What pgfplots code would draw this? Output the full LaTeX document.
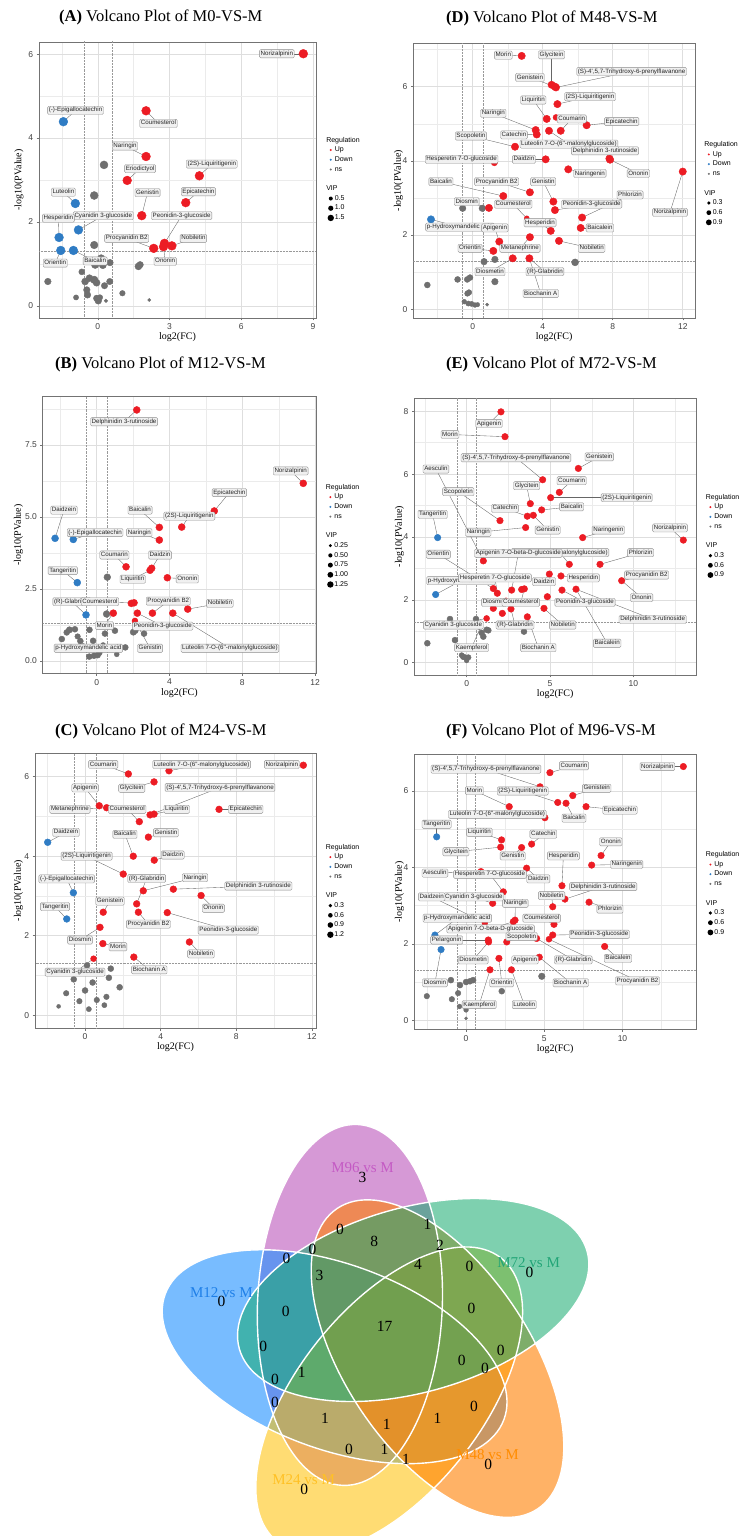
\documentclass[border=0pt]{standalone}
\usepackage{fontspec}
\setmainfont{Liberation Serif}
\newfontfamily\sansf{Liberation Sans}
\usepackage{pgfplots}
\usepackage{pgfplotstable}
\pgfplotsset{compat=1.18}

\definecolor{upred}{HTML}{EC1C24}
\definecolor{downblue}{HTML}{2F7CC4}
\definecolor{nsgray}{HTML}{6F6F6F}
\definecolor{vpink}{HTML}{B446B4}
\definecolor{vblue}{HTML}{1E90FF}
\definecolor{vyellow}{HTML}{FFC000}
\definecolor{vorange}{HTML}{FF7F00}
\definecolor{vgreen}{HTML}{14AA6E}
\definecolor{tpink}{HTML}{C45AC4}
\definecolor{tblue}{HTML}{1E7FE8}
\definecolor{tyellow}{HTML}{FFC125}
\definecolor{torange}{HTML}{FF8C00}
\definecolor{tgreen}{HTML}{22A577}

% ---------------- Panel A ----------------
\pgfplotstableread{
x y r g
8.60 6.01 4.4 1
2.02 4.65 4.4 1
2.02 3.56 4.4 1
1.23 2.99 4.4 1
4.25 3.10 4.4 1
3.68 2.46 4.4 1
1.84 2.15 4.4 1
2.79 1.49 4.4 1
3.10 1.43 4.4 1
2.34 1.37 4.4 1
2.75 1.41 4.4 1
-1.44 4.39 4.4 2
-0.94 2.44 4.4 2
-0.81 1.81 4.4 2
-1.62 1.63 4.4 2
-1.55 1.32 4.4 2
-1.02 1.32 4.4 2
0.26 3.36 4.0 0
-0.15 2.63 4.0 0
-0.15 1.45 3.8 0
-2.09 0.58 3.3 0
0.14 1.13 3.8 0
0.51 1.03 3.3 0
-0.11 0.98 3.8 0
0.21 0.97 3.6 0
1.70 0.94 3.5 0
1.77 0.98 3.3 0
-0.35 0.66 3.5 0
-0.15 0.62 3.8 0
-0.53 0.58 3.5 0
-0.05 0.55 3.5 0
0.50 0.58 3.2 0
0.28 0.48 3.2 0
-0.46 0.38 3.3 0
-0.43 0.26 3.3 0
-0.91 0.20 2.6 0
1.03 0.30 2.8 0
-0.05 0.18 3.2 0
0.02 0.12 3.4 0
0.09 0.20 2.8 0
0.34 0.12 1.8 0
2.15 0.14 1.6 0
-0.67 0.81 3.0 0
}\tA
\pgfplotstableread{
px py lx ly name
8.60 6.01 7.49 6.01 Norizalpinin
2.02 4.65 2.54 4.35 Coumesterol
2.02 3.56 1.14 3.81 Naringin
1.23 2.99 1.77 3.27 Eriodictyol
4.25 3.10 4.77 3.38 {(2S)-Liquiritigenin}
3.68 2.46 4.21 2.72 Epicatechin
1.84 2.15 2.08 2.70 Genistin
2.79 1.49 3.51 2.15 Peonidin-3-glucoside
3.10 1.43 4.00 1.61 Nobiletin
2.34 1.37 1.21 1.61 {Procyanidin B2}
2.75 1.41 2.82 1.06 Ononin
-1.44 4.39 -0.93 4.66 {(-)-Epigallocatechin}
-0.94 2.44 -1.44 2.71 Luteolin
-0.81 1.81 0.23 2.15 {Cyanidin 3-glucoside}
-1.62 1.63 -1.65 2.09 Hesperidin
-1.55 1.32 -1.78 1.02 Orientin
-1.02 1.32 -0.11 1.07 Baicalin
}\lA

% ---------------- Panel D ----------------
\pgfplotstableread{
x y r g
2.80 6.83 3.7 1
4.51 6.05 3.7 1
4.70 6.00 3.7 1
4.76 5.98 3.7 1
4.84 5.53 3.7 1
4.23 5.13 3.7 1
4.76 5.17 3.0 1
5.03 4.81 3.7 1
6.51 4.96 3.7 1
3.60 4.83 3.7 1
3.66 4.71 3.7 1
4.36 4.81 3.7 1
2.42 4.38 3.7 1
7.81 4.06 3.7 1
7.85 4.03 3.7 1
1.24 3.95 3.2 1
4.17 4.04 3.7 1
5.46 3.77 3.7 1
12.00 3.71 3.7 1
3.27 3.15 3.7 1
1.75 3.05 3.7 1
4.61 2.90 3.7 1
4.70 2.67 3.7 1
6.25 2.47 3.7 1
0.93 2.73 3.7 1
3.09 2.45 2.5 1
6.17 2.19 3.7 1
4.46 2.11 3.7 1
1.52 1.82 3.7 1
3.27 1.94 3.7 1
4.93 1.84 3.7 1
1.18 1.57 3.7 1
2.29 1.37 3.7 1
3.24 1.37 3.7 1
-2.38 2.42 3.7 2
-0.57 2.72 3.3 0
0.55 2.72 3.3 0
0.65 1.28 3.3 0
1.27 1.34 3.3 0
1.27 0.74 3.3 0
5.85 1.26 3.5 0
-2.59 0.65 3.0 0
-0.86 0.80 3.0 0
-0.31 0.80 3.0 0
-0.15 0.85 3.0 0
-0.21 0.45 2.8 0
-0.30 0.42 2.8 0
-0.48 0.20 2.4 0
-0.25 0.15 2.6 0
-0.06 0.14 2.6 0
0.13 0.11 2.4 0
0.28 0.12 2.2 0
0.83 0.12 1.6 0
}\tD
\pgfplotstableread{
px py lx ly name
2.80 6.83 1.75 6.85 Morin
4.51 6.05 4.51 6.86 Glycitein
4.70 6.00 3.27 6.25 Genistein
4.76 5.98 9.08 6.41 {(S)-4',5,7-Trihydroxy-6-prenylflavanone}
4.84 5.53 6.70 5.73 {(2S)-Liquiritigenin}
4.23 5.13 3.46 5.64 Liquiritin
5.03 4.81 5.66 5.13 Coumarin
6.51 4.96 8.51 5.06 Epicatechin
3.60 4.83 1.18 5.28 Naringin
3.66 4.71 2.36 4.70 Catechin
2.42 4.38 -0.10 4.67 Scopoletin
4.36 4.81 5.50 4.45 {Luteolin 7-O-(6''-malonylglucoside)}
7.81 4.06 7.56 4.27 {Delphinidin 3-rutinoside}
7.85 4.03 9.46 3.66 Ononin
1.24 3.95 -0.63 4.04 {Hesperetin 7-O-glucoside}
4.17 4.04 2.93 4.04 Daidzin
5.46 3.77 6.70 3.66 Naringenin
12.00 3.71 11.27 2.61 Norizalpinin
3.27 3.15 1.37 3.44 {Procyanidin B2}
1.75 3.05 -1.81 3.44 Baicalin
4.61 2.90 4.03 3.44 Genistin
4.70 2.67 6.80 2.83 Peonidin-3-glucoside
6.25 2.47 8.99 3.08 Phlorizin
0.93 2.73 -0.34 2.90 Diosmin
3.09 2.45 2.32 2.83 Coumesterol
6.17 2.19 7.27 2.19 Baicalein
4.46 2.11 3.85 2.33 Hesperidin
-2.38 2.42 -0.73 2.21 {p-Hydroxymandelic acid}
1.52 1.82 1.27 2.19 Apigenin
3.27 1.94 2.70 1.64 Metanephrine
4.93 1.84 6.80 1.64 Nobiletin
1.18 1.57 -0.15 1.64 Orientin
2.29 1.37 0.99 1.01 Diosmetin
3.24 1.37 4.13 1.01 {(R)-Glabridin}
3.24 1.37 3.89 0.42 {Biochanin A}
}\lD

% ---------------- Panel B ----------------
\pgfplotstableread{
x y r g
2.20 8.72 3.5 1
11.35 6.17 3.5 1
6.46 5.21 3.5 1
4.67 4.65 3.5 1
3.44 4.64 3.5 1
3.44 4.20 3.5 1
1.61 3.27 3.5 1
3.02 3.22 3.5 1
2.93 3.15 3.5 1
3.88 2.89 3.5 1
3.06 1.66 3.5 1
5.00 1.80 3.5 1
2.05 2.02 3.5 1
1.90 2.00 3.5 1
0.91 1.66 3.5 1
2.23 1.66 3.5 1
4.18 1.66 3.5 1
2.10 1.39 3.0 1
-2.29 4.26 3.5 2
-1.29 4.22 3.5 2
-1.07 2.72 3.5 2
-0.59 1.60 3.5 2
0.58 2.91 3.4 0
0.54 1.63 3.4 0
-1.50 1.08 3.2 0
-1.20 1.10 3.0 0
-0.40 1.08 3.0 0
-1.92 0.76 3.0 0
-0.90 0.69 3.0 0
-0.74 0.50 3.0 0
-0.41 0.15 3.0 0
-0.15 0.18 3.0 0
0.05 0.20 3.0 0
0.15 0.28 2.8 0
1.10 0.23 2.5 0
1.57 0.47 3.0 0
-1.65 0.99 3.0 0
2.01 1.00 3.2 0
2.60 0.95 3.0 0
2.12 1.05 3.0 0
0.35 0.55 2.6 0
-0.20 0.70 3.0 0
0.45 0.95 3.0 0
1.00 1.05 3.0 0
-1.05 0.85 2.8 0
}\tB
\pgfplotstableread{
px py lx ly name
2.20 8.72 1.50 8.31 {Delphinidin 3-rutinoside}
11.35 6.17 10.66 6.60 Norizalpinin
6.46 5.21 7.29 5.85 Epicatechin
4.67 4.65 5.09 5.03 {(2S)-Liquiritigenin}
3.44 4.64 2.38 5.24 Baicalin
3.44 4.20 2.34 4.46 Naringin
-2.29 4.26 -1.80 5.24 Daidzein
-1.29 4.22 -0.09 4.46 {(-)-Epigallocatechin}
1.61 3.27 0.97 3.68 Coumarin
3.02 3.22 3.48 3.68 Daidzin
2.93 3.15 1.98 2.84 Liquiritin
3.88 2.89 4.98 2.85 Ononin
-1.07 2.72 -1.87 3.14 Tangeritin
3.06 1.66 3.93 2.08 {Procyanidin B2}
5.00 1.80 6.77 2.00 Nobiletin
-0.59 1.60 -1.37 2.06 {(R)-Glabridin}
2.05 2.02 0.18 2.06 Coumesterol
0.91 1.66 0.42 1.23 Morin
2.23 1.66 3.63 1.21 Peonidin-3-glucoside
1.57 0.47 -0.46 0.44 {p-Hydroxymandelic acid}
2.10 1.39 2.93 0.44 Genistin
4.18 1.66 7.32 0.44 {Luteolin 7-O-(6''-malonylglucoside)}
}\lB

% ---------------- Panel E ----------------
\pgfplotstableread{
x y r g
2.06 7.98 3.3 1
2.30 7.19 3.3 1
6.70 6.18 3.3 1
4.56 5.82 3.3 1
5.56 5.42 3.3 1
5.04 5.25 3.3 1
3.82 5.06 3.3 1
4.50 4.86 3.3 1
2.00 4.52 3.3 1
3.64 4.66 3.3 1
4.00 4.69 3.3 1
3.54 4.30 3.3 1
6.96 3.98 3.3 1
13.00 3.90 3.3 1
8.00 3.13 3.3 1
6.16 3.13 3.3 1
1.00 3.24 3.3 1
4.96 2.82 3.3 1
5.66 2.76 3.3 1
9.30 2.61 3.3 1
5.72 2.31 3.3 1
6.56 2.34 3.3 1
1.60 2.36 3.3 1
1.84 2.21 3.3 1
2.70 2.31 3.3 1
3.30 2.33 3.3 1
3.46 2.35 3.3 1
4.84 2.10 3.3 1
2.36 1.97 3.0 1
1.60 1.73 3.3 1
2.14 1.57 3.3 1
2.66 1.71 3.3 1
4.64 1.73 3.3 1
3.64 1.46 3.3 1
1.20 1.41 3.0 1
-1.74 3.98 3.3 2
-1.86 2.17 3.3 2
-1.00 1.39 3.0 0
0.56 1.39 3.0 0
0.76 1.15 3.0 0
1.20 1.05 3.0 0
0.90 0.95 3.0 0
-2.36 0.62 3.0 0
-0.70 0.72 3.0 0
1.00 0.83 3.0 0
1.30 1.03 3.0 0
3.44 0.99 3.0 0
-0.20 0.19 3.0 0
-0.05 0.16 2.8 0
0.10 0.17 2.8 0
0.00 0.07 2.4 0
-0.30 0.24 2.6 0
}\tE
\pgfplotstableread{
px py lx ly name
2.06 7.98 1.34 7.61 Apigenin
2.30 7.19 -1.00 7.26 Morin
6.70 6.18 7.96 6.55 Genistein
4.56 5.82 2.96 6.52 {(S)-4',5,7-Trihydroxy-6-prenylflavanone}
5.56 5.42 6.30 5.79 Coumarin
5.04 5.25 9.60 5.25 {(2S)-Liquiritigenin}
3.82 5.06 3.60 5.63 Glycitein
4.50 4.86 6.30 4.96 Baicalin
2.00 4.52 -0.50 5.44 Scopoletin
3.64 4.66 2.30 4.91 Catechin
4.00 4.69 4.86 4.22 Genistin
3.54 4.30 0.70 4.15 Naringin
1.00 3.24 -1.84 6.16 Aesculin
-1.74 3.98 -2.04 4.72 Tangeritin
6.96 3.98 8.50 4.22 Naringenin
13.00 3.90 12.20 4.29 Norizalpinin
6.16 3.13 5.60 3.50 {Luteolin 7-O-(6''-malonylglucoside)}
8.00 3.13 10.44 3.50 Phlorizin
2.70 2.31 3.10 3.48 {Apigenin 7-O-beta-D-glucoside}
1.60 2.36 -1.70 3.45 Orientin
-1.86 2.17 -0.34 2.61 {p-Hydroxymandelic acid}
1.84 2.21 1.70 2.70 {Hesperetin 7-O-glucoside}
4.96 2.82 4.64 2.58 Daidzin
5.66 2.76 7.00 2.70 Hesperidin
9.30 2.61 10.80 2.79 {Procyanidin B2}
9.30 2.61 10.50 2.07 Ononin
5.72 2.31 7.10 1.92 Peonidin-3-glucoside
6.56 2.34 11.16 1.38 {Delphinidin 3-rutinoside}
1.60 1.73 1.64 1.92 Diosmin
3.46 2.35 3.25 1.92 Coumesterol
4.64 1.73 5.76 1.20 Nobiletin
2.66 1.71 2.90 1.20 {(R)-Glabridin}
1.20 1.41 -0.80 1.20 {Cyanidin 3-glucoside}
0.80 1.09 0.30 0.48 Kaempferol
3.64 1.46 4.30 0.48 {Biochanin A}
6.56 2.34 8.43 0.62 Baicalein
}\lE

% ---------------- Panel C ----------------
\pgfplotstableread{
x y r g
11.55 6.29 3.4 1
4.44 6.15 3.4 1
2.29 6.07 3.4 1
3.65 5.87 3.4 1
3.44 5.04 3.4 1
3.65 5.06 3.4 1
0.75 5.27 3.4 1
1.14 5.22 3.4 1
2.87 4.87 3.4 1
7.09 5.18 3.4 1
3.35 4.48 3.4 1
2.55 4.00 3.4 1
3.66 3.90 3.4 1
2.02 3.55 3.4 1
3.08 3.13 3.4 1
4.67 3.17 3.4 1
6.14 3.01 3.4 1
0.96 2.59 3.4 1
2.73 2.80 3.4 1
2.82 2.59 3.4 1
4.35 2.58 3.4 1
0.79 2.21 3.4 1
5.52 1.84 3.4 1
0.94 1.80 3.4 1
2.58 1.46 3.4 1
0.45 1.42 3.0 1
-1.98 4.35 3.4 2
-0.62 3.08 3.4 2
-0.97 2.42 3.4 2
1.36 1.17 3.0 0
1.26 0.94 3.0 0
1.83 0.70 3.0 0
1.13 0.46 2.8 0
1.02 0.25 2.6 0
-1.00 0.55 2.8 0
-0.60 0.90 3.0 0
-0.30 0.35 2.8 0
0.00 0.62 3.0 0
0.20 0.15 2.6 0
0.40 0.82 3.0 0
-0.20 1.10 3.0 0
0.62 0.38 2.8 0
-1.40 0.22 2.0 0
0.10 1.25 3.0 0
}\tC
\pgfplotstableread{
px py lx ly name
11.55 6.29 10.41 6.31 Norizalpinin
4.44 6.15 6.17 6.31 {Luteolin 7-O-(6''-malonylglucoside)}
2.29 6.07 0.96 6.31 Coumarin
3.65 5.87 2.47 5.71 Glycitein
3.44 5.04 7.14 5.73 {(S)-4',5,7-Trihydroxy-6-prenylflavanone}
0.75 5.27 0.00 5.72 Apigenin
1.14 5.22 -0.80 5.18 Metanephrine
2.87 4.87 2.23 5.18 Coumesterol
3.65 5.06 4.85 5.18 Liquiritin
7.09 5.18 8.50 5.18 Epicatechin
-1.98 4.35 -1.01 4.60 Daidzein
3.35 4.48 4.28 4.59 Genistin
2.55 4.00 2.11 4.55 Baicalin
3.66 3.90 4.64 4.03 Daidzin
2.02 3.55 0.08 4.00 {(2S)-Liquiritigenin}
2.73 2.80 3.26 3.44 {(R)-Glabridin}
3.08 3.13 5.82 3.46 Naringin
4.67 3.17 9.17 3.25 {Delphinidin 3-rutinoside}
-0.62 3.08 -0.97 3.43 {(-)-Epigallocatechin}
6.14 3.01 6.79 2.69 Ononin
-0.97 2.42 -1.59 2.73 Tangeritin
0.96 2.59 1.32 2.87 Genistein
2.82 2.59 3.35 2.29 {Procyanidin B2}
4.35 2.58 7.58 2.14 Peonidin-3-glucoside
0.79 2.21 -0.27 1.89 Diosmin
5.52 1.84 6.13 1.54 Nobiletin
0.94 1.80 1.74 1.72 Morin
2.58 1.46 3.40 1.14 {Biochanin A}
0.45 1.42 -0.53 1.08 {Cyanidin 3-glucoside}
}\lC

% ---------------- Panel F ----------------
\pgfplotstableread{
x y r g
13.89 6.64 3.3 1
5.36 6.48 3.3 1
4.73 6.11 3.3 1
6.82 5.88 3.3 1
5.86 5.70 3.3 1
6.39 5.68 3.3 1
7.67 5.59 3.3 1
2.76 5.59 3.3 1
5.04 5.30 3.3 1
2.27 4.72 3.3 1
2.21 4.53 3.3 1
4.19 4.61 3.3 1
3.55 4.52 3.3 1
8.63 4.31 3.3 1
8.03 4.06 3.3 1
3.87 3.98 3.3 1
0.95 3.89 3.3 1
6.13 3.52 3.3 1
2.38 3.36 3.3 1
6.32 3.17 3.3 1
5.54 2.97 3.3 1
7.86 3.09 3.3 1
1.70 3.06 3.3 1
3.13 2.62 3.3 1
5.62 2.51 3.3 1
5.54 2.23 3.3 1
3.02 2.58 3.3 1
4.51 2.14 3.3 1
5.30 2.12 3.0 1
2.60 2.05 3.3 1
1.42 2.10 3.3 1
1.44 2.05 3.3 1
4.68 1.65 3.3 1
2.10 1.62 3.3 1
1.53 1.32 3.3 1
2.90 1.32 3.3 1
8.86 1.93 3.3 1
1.20 2.55 3.0 1
-1.88 4.80 3.3 2
-1.99 2.23 3.3 2
-1.60 1.85 3.3 2
4.84 1.15 3.3 0
2.28 0.76 3.0 0
-2.51 0.63 2.8 0
-0.91 0.55 2.8 0
-0.97 1.05 3.0 0
-0.51 0.71 2.8 0
-0.39 0.92 3.0 0
0.00 1.00 3.0 0
0.25 1.02 3.0 0
0.45 1.05 3.0 0
-0.42 0.36 2.4 0
0.00 0.27 2.4 0
0.00 0.05 1.5 0
}\tF
\pgfplotstableread{
px py lx ly name
13.89 6.64 12.23 6.64 Norizalpinin
5.36 6.48 6.90 6.66 Coumarin
4.73 6.11 1.27 6.57 {(S)-4',5,7-Trihydroxy-6-prenylflavanone}
6.82 5.88 8.35 6.07 Genistein
5.86 5.70 3.62 6.00 {(2S)-Liquiritigenin}
2.76 5.59 0.53 6.01 Morin
6.39 5.68 6.90 5.29 Baicalin
7.67 5.59 9.84 5.50 Epicatechin
5.04 5.30 2.00 5.39 {Luteolin 7-O-(6''-malonylglucoside)}
-1.88 4.80 -1.88 5.13 Tangeritin
2.27 4.72 0.85 4.92 Liquiritin
4.19 4.61 4.94 4.87 Catechin
8.63 4.31 9.25 4.67 Ononin
2.21 4.53 -0.65 4.41 Glycitein
3.55 4.52 2.98 4.30 Genistin
6.13 3.52 6.22 4.30 Hesperidin
8.03 4.06 10.27 4.08 Naringenin
0.95 3.89 -1.99 3.85 Aesculin
2.38 3.36 1.53 3.82 {Hesperetin 7-O-glucoside}
3.87 3.98 4.62 3.70 Daidzin
6.32 3.17 8.77 3.50 {Delphinidin 3-rutinoside}
5.54 2.97 5.47 3.26 Nobiletin
1.70 3.06 0.50 3.23 {Cyanidin 3-glucoside}
1.20 2.55 -2.20 3.23 Daidzein
3.13 2.62 3.15 3.06 Naringin
7.86 3.09 9.20 2.91 Phlorizin
-1.99 2.23 -0.56 2.67 {p-Hydroxymandelic acid}
5.62 2.51 4.83 2.67 Coumesterol
3.02 2.58 1.57 2.39 {Apigenin 7-O-beta-D-glucoside}
5.54 2.23 8.52 2.25 Peonidin-3-glucoside
2.60 2.05 3.55 2.19 Scopoletin
1.42 2.10 -1.24 2.10 Pelargonin
-1.60 1.85 -1.99 0.98 Diosmin
1.44 2.05 0.45 1.58 Diosmetin
4.68 1.65 3.77 1.58 Apigenin
4.51 2.14 6.85 1.58 {(R)-Glabridin}
8.86 1.93 9.71 1.62 Baicalein
4.68 1.65 6.69 0.98 {Biochanin A}
5.30 2.12 10.96 1.03 {Procyanidin B2}
2.10 1.62 2.28 0.98 Orientin
1.53 1.32 0.84 0.41 Kaempferol
2.90 1.32 3.72 0.41 Luteolin
}\lF

% ---------------- Venn counts ----------------
\pgfplotstableread{
x y n
340.0 -1229.0 0
427.5 -1224.4 1
374.3 -1241.5 8
440.0 -1245.3 2
312.5 -1249.9 0
286.4 -1258.6 0
417.9 -1264.0 4
319.6 -1275.7 3
469.6 -1266.2 0
285.7 -1311.9 0
471.4 -1308.0 0
384.6 -1326.0 17
263.2 -1346.8 0
500.7 -1350.6 0
461.8 -1360.0 0
301.8 -1372.7 1
275.0 -1379.2 0
485.0 -1368.9 0
275.0 -1402.0 0
473.9 -1406.9 0
325.0 -1418.3 1
386.8 -1424.8 1
437.5 -1418.3 1
348.9 -1449.5 0
384.6 -1449.5 1
406.0 -1459.0 1
362.5 -1177.6 3
529.6 -1272.0 0
221.4 -1301.2 0
488.2 -1464.0 0
304.3 -1489.4 0
}\vennN

\tikzset{
  lab/.style={draw=black!45, fill=white!94!black, rounded corners=1.2pt, line width=0.35pt,
    inner sep=1.2pt, font=\sansf\fontsize{6.2}{7}\selectfont, text=black!85,
    text height=4.5pt, text depth=1.3pt},
}
\pgfplotsset{
  volc/.style={
    scale only axis, anchor=south west,
    axis line style={black!55, line width=0.5pt},
    every tick/.style={black!55, line width=0.5pt},
    tick align=outside, major tick length=2.3pt, minor tick length=0pt,
    xtick pos=lower, ytick pos=left,
    grid=both,
    major grid style={black!13, line width=0.55pt},
    minor grid style={black!8, line width=0.3pt},
    /pgf/number format/assume math mode=true,
    tick label style={font=\sansf\fontsize{8.5}{9}\selectfont, text=black!75},
    xlabel={log2(FC)}, ylabel={-log10(PValue)},
    label style={font=\sansf\fontsize{9.8}{11}\selectfont, text=black},
    every axis x label/.style={at={(rel axis cs:0.5,-0.07)}, anchor=center},
    legend cell align=left,
    legend style={draw=none, fill=none, anchor=north west,
      font=\sansf\fontsize{7}{8}\selectfont, inner sep=0pt, row sep=2.2pt,
      nodes={inner sep=0.5pt, text height=5pt, text depth=1.5pt}},
  },
  thr/.style={black!40, line width=0.45pt, densely dotted},
  pts/.style={scatter, only marks, mark=*,
    visualization depends on={\thisrow{r}\as\rr},
    scatter/@pre marker code/.code={\scope[mark size=\rr]},
    scatter/@post marker code/.code={\endscope}},
  leader/.style={black!60, line width=0.35pt},
}

\newcommand{\volcdraw}[2]{%
  \addplot[forget plot, thr] coordinates {(-0.585,-5) (-0.585,15)};
  \addplot[forget plot, thr] coordinates {(0.585,-5) (0.585,15)};
  \addplot[forget plot, thr] coordinates {(-5,1.301) (20,1.301)};
  \addplot[forget plot, pts, color=nsgray, restrict expr to domain={\thisrow{g}}{-0.5:0.5}] table[x=x,y=y] {#1};
  \addplot[forget plot, pts, color=upred, restrict expr to domain={\thisrow{g}}{0.5:1.5}] table[x=x,y=y] {#1};
  \addplot[forget plot, pts, color=downblue, restrict expr to domain={\thisrow{g}}{1.5:2.5}] table[x=x,y=y] {#1};
  \addplot[forget plot, leader, quiver={u=\thisrow{lx}-\thisrow{px}, v=\thisrow{ly}-\thisrow{py}}]
    table[x=px,y=py] {#2};
  \addplot[forget plot, only marks, mark=none, point meta=explicit symbolic,
    nodes near coords, nodes near coords align={center},
    every node near coord/.append style={lab}] table[x=lx,y=ly,meta=name] {#2};
}
\newcommand{\leg}[3]{\addlegendimage{legend image code/.code={\path[draw=none,fill=none] (0pt,-1pt) rectangle (7pt,1pt);\fill[#1,draw=none] (3.5pt,0pt) circle[radius=#2];}}\addlegendentry{#3}}
\newcommand{\legtitle}[1]{\addlegendimage{empty legend}\addlegendentry{\hspace*{-8.5pt}#1}}
\newcommand{\legblank}{\addlegendimage{empty legend}\addlegendentry{}}
\newcommand{\legreg}{\legtitle{Regulation}\leg{upred}{1.1pt}{Up}\leg{downblue}{1.1pt}{Down}\leg{nsgray}{1.1pt}{ns}\legblank\legtitle{VIP}}
\newcommand{\ttl}{\fontsize{16.5}{18}\selectfont}

\begin{document}
\begin{tikzpicture}
\path[use as bounding box] (0pt,0pt) rectangle (741pt,-1536pt);

% ---- titles ----
\node[anchor=west, font=\ttl, inner sep=0pt] at (59pt,-17.5pt) {\textbf{(A)} Volcano Plot of M0-VS-M};
\node[anchor=west, font=\ttl, inner sep=0pt] at (446pt,-18pt) {\textbf{(D)} Volcano Plot of M48-VS-M};
\node[anchor=west, font=\ttl, inner sep=0pt] at (55pt,-364pt) {\textbf{(B)} Volcano Plot of M12-VS-M};
\node[anchor=west, font=\ttl, inner sep=0pt] at (446pt,-364pt) {\textbf{(E)} Volcano Plot of M72-VS-M};
\node[anchor=west, font=\ttl, inner sep=0pt] at (55pt,-731pt) {\textbf{(C)} Volcano Plot of M24-VS-M};
\node[anchor=west, font=\ttl, inner sep=0pt] at (446pt,-731pt) {\textbf{(F)} Volcano Plot of M96-VS-M};

% ---- A ----
\begin{axis}[volc, at={(39pt,-318pt)}, width=277pt, height=276pt,
  xmin=-2.46, xmax=9.13, ymin=-0.29, ymax=6.29,
  xtick={0,3,6,9}, ytick={0,2,4,6}, minor xtick={-1.5,1.5,4.5,7.5}, minor ytick={1,3,5},
  every axis y label/.style={at={(rel axis cs:-0.072,0.5)}, rotate=90, anchor=center},
  legend style={at={(1.040,0.658)}}]
\volcdraw{\tA}{\lA}
\legreg
\leg{black}{2.0pt}{0.5}\leg{black}{2.6pt}{1.0}\leg{black}{3.2pt}{1.5}
\end{axis}

% ---- D ----
\begin{axis}[volc, at={(413.3pt,-318pt)}, width=281.7pt, height=274.7pt,
  xmin=-3.39, xmax=12.7, ymin=-0.24, ymax=7.17,
  xtick={0,4,8,12}, ytick={0,2,4,6}, minor xtick={-2,2,6,10}, minor ytick={1,3,5,7},
  every axis y label/.style={at={(rel axis cs:-0.053,0.5)}, rotate=90, anchor=center},
  legend style={at={(1.036,0.645)}}]
\volcdraw{\tD}{\lD}
\legreg
\leg{black}{1.8pt}{0.3}\leg{black}{2.4pt}{0.6}\leg{black}{2.9pt}{0.9}
\end{axis}

% ---- B ----
\begin{axis}[volc, at={(42.7pt,-673.3pt)}, width=273.3pt, height=276.6pt,
  xmin=-2.97, xmax=12.05, ymin=-0.43, ymax=9.18,
  xtick={0,4,8,12}, ytick={0,2.5,5,7.5}, minor xtick={-2,2,6,10}, minor ytick={1.25,3.75,6.25,8.75},
  yticklabel style={/pgf/number format/.cd, fixed, fixed zerofill, precision=1},
  every axis y label/.style={at={(rel axis cs:-0.089,0.5)}, rotate=90, anchor=center},
  legend style={at={(1.039,0.686)}}]
\volcdraw{\tB}{\lB}
\legreg
\leg{black}{1.6pt}{0.25}\leg{black}{2.1pt}{0.50}\leg{black}{2.5pt}{0.75}\leg{black}{2.9pt}{1.00}\leg{black}{3.2pt}{1.25}
\end{axis}

% ---- E ----
\begin{axis}[volc, at={(414.3pt,-675pt)}, width=281.7pt, height=276.7pt,
  xmin=-3.14, xmax=13.76, ymin=-0.39, ymax=8.41,
  xtick={0,5,10}, ytick={0,2,4,6,8}, minor xtick={-2.5,2.5,7.5,12.5}, minor ytick={1,3,5,7},
  every axis y label/.style={at={(rel axis cs:-0.053,0.5)}, rotate=90, anchor=center},
  legend style={at={(1.038,0.656)}}]
\volcdraw{\tE}{\lE}
\legreg
\leg{black}{1.8pt}{0.3}\leg{black}{2.4pt}{0.6}\leg{black}{2.9pt}{0.9}
\end{axis}

% ---- C ----
\begin{axis}[volc, at={(35pt,-1028.2pt)}, width=281pt, height=274.9pt,
  xmin=-2.65, xmax=12.22, ymin=-0.33, ymax=6.59,
  xtick={0,4,8,12}, ytick={0,2,4,6}, minor xtick={-2,2,6,10}, minor ytick={1,3,5},
  every axis y label/.style={at={(rel axis cs:-0.059,0.5)}, rotate=90, anchor=center},
  legend style={at={(1.038,0.672)}}]
\volcdraw{\tC}{\lC}
\legreg
\leg{black}{1.8pt}{0.3}\leg{black}{2.3pt}{0.6}\leg{black}{2.8pt}{0.9}\leg{black}{3.2pt}{1.2}
\end{axis}

% ---- F ----
\begin{axis}[volc, at={(414.3pt,-1029.4pt)}, width=281.7pt, height=275.1pt,
  xmin=-3.31, xmax=14.70, ymin=-0.24, ymax=6.96,
  xtick={0,5,10}, ytick={0,2,4,6}, minor xtick={-2.5,2.5,7.5,12.5}, minor ytick={1,3,5},
  every axis y label/.style={at={(rel axis cs:-0.053,0.5)}, rotate=90, anchor=center},
  legend style={at={(1.038,0.649)}}]
\volcdraw{\tF}{\lF}
\legreg
\leg{black}{1.8pt}{0.3}\leg{black}{2.4pt}{0.6}\leg{black}{2.9pt}{0.9}
\end{axis}

% ---- Venn ----
\begin{axis}[at={(0pt,-1536pt)}, anchor=south west, scale only axis, width=741pt, height=446pt,
  xmin=0, xmax=741, ymin=-1536, ymax=-1090, hide axis, clip=false]
\fill[vpink, fill opacity=0.55, rotate around={87.7:(axis cs:349.9,-1304.9)}] (axis cs:349.9,-1304.9) ellipse [x radius=180.6, y radius=92.4];
\fill[vblue, fill opacity=0.6, rotate around={159.7:(axis cs:334.6,-1356.7)}] (axis cs:334.6,-1356.7) ellipse [x radius=180.6, y radius=92.4];
\fill[vyellow, fill opacity=0.55, rotate around={231.7:(axis cs:389.2,-1399.8)}] (axis cs:389.2,-1399.8) ellipse [x radius=180.6, y radius=92.4];
\fill[vorange, fill opacity=0.6, rotate around={303.7:(axis cs:437.5,-1358.6)}] (axis cs:437.5,-1358.6) ellipse [x radius=180.6, y radius=92.4];
\fill[vgreen, fill opacity=0.55, rotate around={15.7:(axis cs:413.2,-1300.0)}] (axis cs:413.2,-1300.0) ellipse [x radius=180.6, y radius=92.4];
\draw[white, line width=1.4pt, rotate around={87.7:(axis cs:349.9,-1304.9)}] (axis cs:349.9,-1304.9) ellipse [x radius=180.6, y radius=92.4];
\draw[white, line width=1.4pt, rotate around={159.7:(axis cs:334.6,-1356.7)}] (axis cs:334.6,-1356.7) ellipse [x radius=180.6, y radius=92.4];
\draw[white, line width=1.4pt, rotate around={231.7:(axis cs:389.2,-1399.8)}] (axis cs:389.2,-1399.8) ellipse [x radius=180.6, y radius=92.4];
\draw[white, line width=1.4pt, rotate around={303.7:(axis cs:437.5,-1358.6)}] (axis cs:437.5,-1358.6) ellipse [x radius=180.6, y radius=92.4];
\draw[white, line width=1.4pt, rotate around={15.7:(axis cs:413.2,-1300.0)}] (axis cs:413.2,-1300.0) ellipse [x radius=180.6, y radius=92.4];
\node[text=tpink, font=\fontsize{15}{16}\selectfont] at (axis cs:362.5,-1168) {M96 vs M};
\node[text=tgreen, font=\fontsize{15}{16}\selectfont] at (axis cs:528.6,-1263) {M72 vs M};
\node[text=tblue, font=\fontsize{15}{16}\selectfont] at (axis cs:221.4,-1292.9) {M12 vs M};
\node[text=torange, font=\fontsize{15}{16}\selectfont] at (axis cs:487.5,-1454.4) {M48 vs M};
\node[text=tyellow, font=\fontsize{15}{16}\selectfont] at (axis cs:303.6,-1480) {M24 vs M};
\addplot[only marks, mark=none, point meta=explicit symbolic, nodes near coords, nodes near coords align={center},
  every node near coord/.append style={font=\fontsize{15.5}{16}\selectfont, text=black, inner sep=0pt}]
  table[x=x,y=y,meta=n] {\vennN};
\end{axis}
\end{tikzpicture}
\end{document}
